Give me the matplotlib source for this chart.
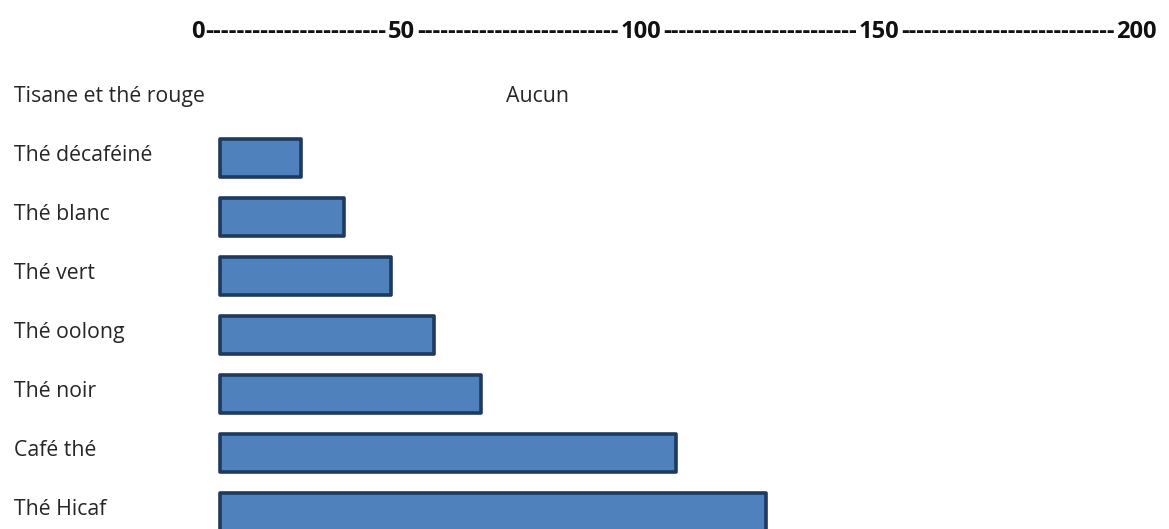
import matplotlib
matplotlib.use("Agg")
import matplotlib.pyplot as plt

categories = ["Tisane et thé rouge", "Thé décaféiné", "Thé blanc", "Thé vert",
              "Thé oolong", "Thé noir", "Café thé", "Thé Hicaf"]
values = [0, 17, 26, 36, 45, 55, 96, 115]
none_label = "Aucun"
scale_labels = ["0", "50", "100", "150", "200"]

W, H = 1169, 529
fig = plt.figure(figsize=(W / 100, H / 100), dpi=100)
ax = fig.add_axes([0, 0, 1, 1])
ax.axis("off")

px_per_unit = 4.75
x0_px = 220
ax.set_xlim(-x0_px / px_per_unit, (W - x0_px) / px_per_unit)
row_px = 59.0
top_px = 99
ax.set_ylim((H - top_px) / row_px, -top_px / row_px)

idx = list(range(len(categories)))
bar_idx = [i for i in idx if values[i] > 0]
ax.barh(bar_idx, [values[i] for i in bar_idx], height=0.66, left=0,
        color="#4F81BD", edgecolor="#1F3A5E", linewidth=2.6, joinstyle="round")

font = "Open Sans"
fs = 15.3
lbl_x = -(x0_px - 14) / px_per_unit
dy = -2.5 / row_px
for i, c in enumerate(categories):
    ax.text(lbl_x, i + dy, c, ha="left", va="center", fontsize=fs, family=font, color="#262626")
ax.text((506 - x0_px) / px_per_unit, 0 + dy, none_label, ha="left", va="center",
        fontsize=fs, family=font, color="#262626")

# header scale drawn as text: numbers with hyphen runs between them
centers_px = [198, 401, 641, 879, 1136]
hy = 1 - 32 / H
hfs = 17
renderer = fig.canvas.get_renderer()
nums = []
for s, cx in zip(scale_labels, centers_px):
    t = fig.text(cx / W, hy, s, ha="center", va="center", fontsize=hfs,
                 fontweight="bold", family=font, color="#111111")
    nums.append(t)
probe = fig.text(0, 0, "-" * 20, fontsize=hfs, fontweight="bold", family=font)
hw = probe.get_window_extent(renderer).width / 20
probe.remove()
for a, b in zip(nums[:-1], nums[1:]):
    ea = a.get_window_extent(renderer)
    eb = b.get_window_extent(renderer)
    left = ea.x1 + 0.5
    right = eb.x0 - 0.5
    gap = right - left
    n = max(1, int(round(gap / hw)))
    dfs = hfs * gap / (n * hw)
    fig.text((left + right) / 2 / W, hy, "-" * n, ha="center", va="center",
             fontsize=dfs, fontweight="bold", family=font, color="#111111")

fig.savefig("out.png", dpi=100, facecolor="white")
